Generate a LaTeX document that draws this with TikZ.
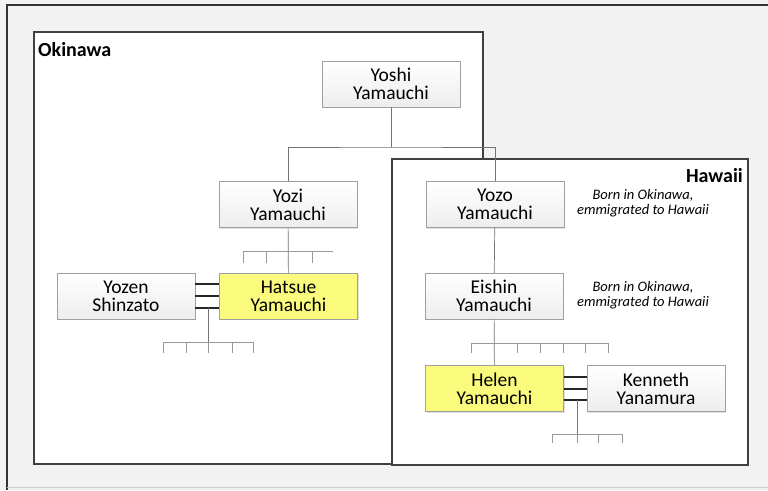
\documentclass[tikz,border=0pt]{standalone}
\usepackage{fontspec}
\setmainfont{Carlito}
\usetikzlibrary{shadows}
\definecolor{hlyellow}{RGB}{250,250,125}
\definecolor{pagegray}{RGB}{242,242,242}
\begin{document}
\begin{tikzpicture}[x=1pt, y=-1pt,
      famnode/.style={draw=gray!75, align=center, inner sep=0pt, minimum width=138pt, minimum height=46pt,
        font=\fontsize{19.5}{18}\selectfont,
        drop shadow={shadow xshift=1pt, shadow yshift=-1.2pt, opacity=0.25}},
      person/.style={famnode, top color=white, bottom color=gray!14},
      kin/.style={famnode, fill=hlyellow},
      note/.style={align=center, font=\fontsize{14.5}{14.5}\selectfont\itshape},
      region/.style={draw=black!75, line width=1.4pt, fill=white},
      tag/.style={font=\fontsize{20}{20}\selectfont\bfseries, inner sep=0pt},
      link/.style={draw=black!55, line width=0.7pt},
      wed/.style={draw=black!85, line width=2pt},
      tick/.style={draw=black!40, line width=0.6pt}]
    \useasboundingbox (0,0) rectangle (768,490);
    \fill[pagegray] (0,0) rectangle (768,490);
    \draw[black!80, line width=2pt] (768,5) -- (7,5) -- (7,490);
    \draw[black!20, line width=1pt] (7,487) -- (768,487);

    \draw[region] (34,32) rectangle (483,464);
    \draw[region] (392,159) rectangle (748,465);
    \node[tag, anchor=west] (okinawa) at (38,50) {Okinawa};
    \node[tag, anchor=east] (hawaii) at (743,176) {Hawaii};

    \node[person] (yoshi)   at (391,84)    {Yoshi\\Yamauchi};
    \node[person] (yozi)    at (288,204.5) {Yozi\\Yamauchi};
    \node[person] (yozo)    at (495,204.5) {Yozo\\Yamauchi};
    \node[person] (eishin)  at (494,296)   {Eishin\\Yamauchi};
    \node[person] (yozen)   at (126,296)   {Yozen\\Shinzato};
    \node[kin]    (hatsue)  at (288.5,296) {Hatsue\\Yamauchi};
    \node[kin]    (helen)   at (494.5,388.5) {Helen\\Yamauchi};
    \node[person] (kenneth) at (656,388.5) {Kenneth\\Yanamura};

    \node[note] (yozonote)   at (643,203) {Born in Okinawa,\\emmigrated to Hawaii};
    \node[note] (eishinnote) at (643,295) {Born in Okinawa,\\emmigrated to Hawaii};

    \coordinate (fork) at (391,147);
    \draw[link] (yoshi) -- (fork);
    \draw[link] (yozi.north) |- (fork) -| (yozo.north);
    \draw[link] (yozo) -- (eishin);
    \draw[link] (yozi) -- (hatsue);
    \draw[link] (eishin) -- (helen);

    \foreach \dy in {-12,0,12}
      \draw[wed] ([yshift=\dy pt]yozen.east) -- ([yshift=\dy pt]hatsue.west);
    \foreach \dy in {-11.5,0,11.5}
      \draw[wed] ([yshift=\dy pt]helen.east) -- ([yshift=\dy pt]kenneth.west);

    \coordinate (kidsa) at (208,342);
    \coordinate (kidsb) at (288,251);
    \coordinate (kidsc) at (494,343);
    \coordinate (kidsd) at (577,434);
    \draw[link] (208,308) -- (kidsa);
    \draw[link] (577,400) -- (kidsd);

    \draw[tick] ([xshift=-45pt]kidsa) -- ([xshift=45pt]kidsa);
    \foreach \dx in {-45,-22,0,24,45}
      \draw[tick] ([xshift=\dx pt]kidsa) -- ++(0,11);
    \draw[tick] ([xshift=-45pt]kidsb) -- ([xshift=45pt]kidsb);
    \foreach \dx in {-45,-22,24}
      \draw[tick] ([xshift=\dx pt]kidsb) -- ++(0,12);
    \draw[tick] ([xshift=-23pt]kidsc) -- ([xshift=114pt]kidsc);
    \foreach \dx in {-23,23,46,69,91,114}
      \draw[tick] ([xshift=\dx pt]kidsc) -- ++(0,10);
    \draw[tick] ([xshift=-25pt]kidsd) -- ([xshift=45pt]kidsd);
    \foreach \dx in {-25,0,21,45}
      \draw[tick] ([xshift=\dx pt]kidsd) -- ++(0,9);
  \end{tikzpicture}
\end{document}
